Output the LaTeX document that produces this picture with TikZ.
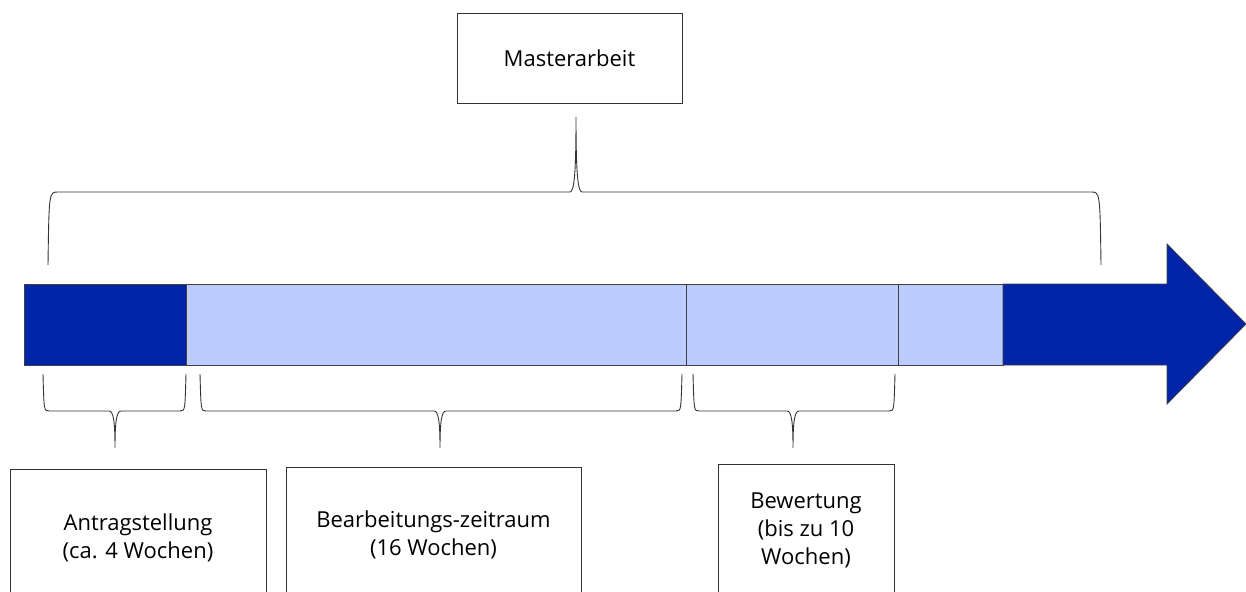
\documentclass[tikz,border=0pt]{standalone}
\usepackage{fontspec}
\setmainfont{Open Sans}
\usetikzlibrary{positioning}
\definecolor{dunkelblau}{RGB}{0,36,168}
\definecolor{hellblau}{RGB}{189,204,255}
\newcommand{\zeitbrace}[7]{%
  \draw[klammer] (#1,#4) .. controls (#1+1,#5) and (#1+1,#5) .. (#1+#7,#5)
    -- (#3-6,#5) .. controls (#3-1.5,#5) and (#3,{#5+0.3*(#6-#5)}) .. (#3,#6)
    .. controls (#3,{#5+0.3*(#6-#5)}) and (#3+1.5,#5) .. (#3+6,#5)
    -- (#2-#7,#5) .. controls (#2-1,#5) and (#2-1,#5) .. (#2,#4);}
\begin{document}
\begin{tikzpicture}[
  x=1pt, y=-1pt,
  phase/.style={draw=black!75, line width=0.8pt, minimum height=81, inner sep=0, outer sep=0},
  kasten/.style={draw=black!80, line width=0.8pt, align=center, inner sep=0,
    font=\fontsize{22}{28}\selectfont},
  klammer/.style={draw=black!80, line width=0.9pt}
]
\useasboundingbox (0,0) rectangle (1246,591);
\clip (0,0) rectangle (1246,591);
\node[kasten, minimum width=225, minimum height=90] (master) at (569.5,58) {Masterarbeit};
\node[phase, fill=dunkelblau, minimum width=162, anchor=west] (antrag) at (24,324.5) {};
\node[phase, fill=hellblau, minimum width=500, right=0pt of antrag] (bearb) {};
\node[phase, fill=hellblau, minimum width=212, right=0pt of bearb] (bewert) {};
\node[phase, fill=hellblau, minimum width=105, right=0pt of bewert] (puffer) {};
\draw[fill=dunkelblau, draw=black!75, line width=0.8pt] (puffer.north east) -- (1167,284) -- (1167,244)
  -- (1246,324) -- (1167,404) -- (1167,365) -- (puffer.south east) -- cycle;
\zeitbrace{48}{1101}{576}{265}{192}{117}{10}
\zeitbrace{43}{186}{115}{374}{411}{448}{6}
\zeitbrace{200}{682}{440}{374}{411}{448}{6}
\zeitbrace{693}{895}{793}{374}{411}{448}{6}
\node[kasten, minimum width=256, minimum height=138] (antragbox) at (138,538) {Antragstellung\\(ca. 4 Wochen)};
\node[kasten, minimum width=295, minimum height=136] (bearbbox) at (433.5,535) {Bearbeitungs-zeitraum\\(16 Wochen)};
\node[kasten, minimum width=176, minimum height=132] (bewertbox) at (806,530) {Bewertung\\(bis zu 10\\Wochen)};
\end{tikzpicture}
\end{document}
